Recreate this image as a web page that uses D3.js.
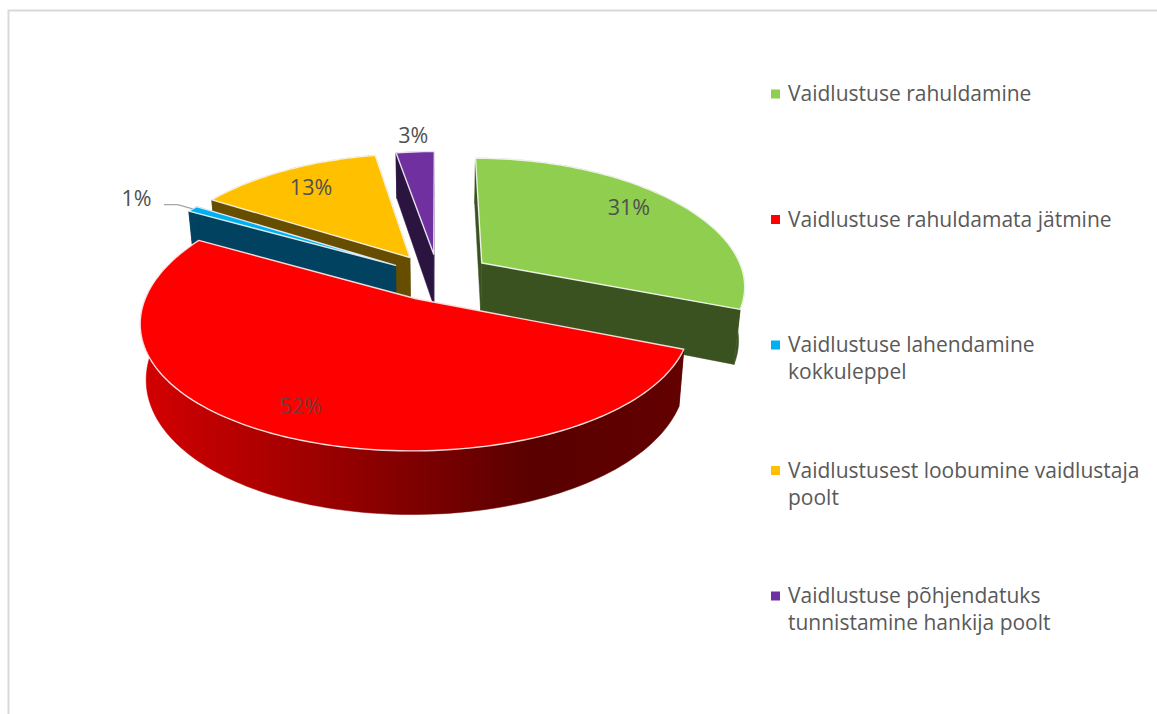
<!DOCTYPE html>
<html>
<head>
<meta charset="utf-8">
<script src="https://cdnjs.cloudflare.com/ajax/libs/d3/7.8.5/d3.min.js"></script>
<style>
    html, body { margin: 0; padding: 0; background: #fff; overflow: hidden; }
    text { font-family: "Open Sans", "Noto Sans", sans-serif; }
</style>
</head>
<body>
<svg id="chart" width="1157" height="714"></svg>
<script>
const categories = [
    ['Vaidlustuse rahuldamine'],
    ['Vaidlustuse rahuldamata jätmine'],
    ['Vaidlustuse lahendamine', 'kokkuleppel'],
    ['Vaidlustusest loobumine vaidlustaja', 'poolt'],
    ['Vaidlustuse põhjendatuks', 'tunnistamine hankija poolt']
];
const shares = [31, 52, 0.8, 13.4, 2.8];
const shareLabels = ['31%', '52%', '1%', '13%', '3%'];
const faceColors = ['#8fce4e', '#ff0000', '#00b0f0', '#ffc000', '#7030a0'];
const wallColors = ['#3a5220', '#5a0000', '#00425f', '#664d00', '#2c1440'];
const explosions = [0.205, 0.19, 0.19, 0.195, 0.19];

// radius (1 = rim) and turn in degrees from the slice middle, for the % labels
const labelRadius = [0.79, 0.83, 1.26, 0.77, 1.17];
const labelTurn = [-3, 0.5, -2.5, -0.5, 0.2];

const WIDTH = 1157;
const HEIGHT = 714;
const CENTER = { x: 438, y: 277 };
const RADIUS = 263;
const RADIUS_Y = 123.5;
const PERSPECTIVE_X = 0.17;
const PERSPECTIVE_Y = 0.143;
const THICKNESS = 53;
const LOWER_SHRINK = 0.98;

const svg = d3.select('#chart').attr('viewBox', `0 0 ${WIDTH} ${HEIGHT}`);

svg.append('rect').attr('width', WIDTH).attr('height', HEIGHT).attr('fill', '#fff');

// frame of the pasted chart: only top and left are inside the picture
svg.append('path')
    .attr('d', `M8.5 ${HEIGHT} V10.5 H${WIDTH}`)
    .attr('fill', 'none')
    .attr('stroke', '#d9d9d9')
    .attr('stroke-width', 2);

const slices = d3.pie().sort(null).startAngle(0).endAngle(2 * Math.PI)(shares);

const rad = d => d * Math.PI / 180;

// a point of the tilted disc, seen with a bit of perspective
function project(X, Z, down = 0) {
    const sx = 1 / (1 + PERSPECTIVE_X * Z);
    const sy = 1 / (1 + PERSPECTIVE_Y * Z);
    return [
        CENTER.x + RADIUS * X * sx * (down ? LOWER_SHRINK : 1),
        CENTER.y - RADIUS_Y * Z * sy + (down ? THICKNESS * sy : 0)
    ];
}

function slicePoint(slice, angle, r, down = 0) {
    const mid = (slice.startAngle + slice.endAngle) / 2;
    const X = explosions[slice.index] * Math.sin(mid) + r * Math.sin(angle);
    const Z = explosions[slice.index] * Math.cos(mid) + r * Math.cos(angle);
    return project(X, Z, down);
}

function rimAngles(slice) {
    const n = Math.max(2, Math.ceil((slice.endAngle - slice.startAngle) / rad(1.5)));
    return d3.range(n + 1).map(i => slice.startAngle + (slice.endAngle - slice.startAngle) * i / n);
}

const line = d3.line();
const closed = pts => line(pts) + 'Z';

// the big slice has the shaded rim
const defs = svg.append('defs');
const rimGradient = defs.append('linearGradient')
    .attr('id', 'red-rim')
    .attr('gradientUnits', 'userSpaceOnUse')
    .attr('x1', 141).attr('y1', 0)
    .attr('x2', 690).attr('y2', 0);
rimGradient.append('stop').attr('offset', '0%').attr('stop-color', '#d40000');
rimGradient.append('stop').attr('offset', '72%').attr('stop-color', '#590000');
rimGradient.append('stop').attr('offset', '100%').attr('stop-color', '#640000');

const pieG = svg.append('g');
const drawOrder = [4, 3, 2, 0, 1];

drawOrder.forEach(i => {
    const slice = slices[i];
    const g = pieG.append('g');
    const angles = rimAngles(slice);
    const apexTop = slicePoint(slice, 0, 0);
    const apexLow = slicePoint(slice, 0, 0, 1);

    [slice.startAngle, slice.endAngle].forEach(a => {
        g.append('path')
            .attr('d', closed([apexTop, slicePoint(slice, a, 1), slicePoint(slice, a, 1, 1), apexLow]))
            .attr('fill', wallColors[i])
            .attr('stroke', wallColors[i])
            .attr('stroke-width', 0.5);
    });

    const rimTop = angles.map(a => slicePoint(slice, a, 1));
    const rimLow = angles.map(a => slicePoint(slice, a, 1, 1));
    const rimFill = i === 1 ? 'url(#red-rim)' : wallColors[i];
    g.append('path')
        .attr('d', closed(rimTop.concat(rimLow.reverse())))
        .attr('fill', rimFill)
        .attr('stroke', rimFill)
        .attr('stroke-width', 0.5);

    g.append('path')
        .attr('d', closed([apexTop].concat(rimTop)))
        .attr('fill', faceColors[i])
        .attr('stroke', '#fff')
        .attr('stroke-opacity', 0.85)
        .attr('stroke-width', 1.4)
        .attr('stroke-linejoin', 'round');
});

// leader of the 1% label
const blue = slices[2];
const blueMid = (blue.startAngle + blue.endAngle) / 2;
svg.append('path')
    .attr('d', line([
        slicePoint(blue, blueMid, 1.0),
        slicePoint(blue, blueMid, 1.08),
        slicePoint(blue, blueMid - rad(1.5), 1.13)
    ]))
    .attr('fill', 'none')
    .attr('stroke', '#a6a6a6')
    .attr('stroke-width', 1.2);

slices.forEach((slice, i) => {
    const mid = (slice.startAngle + slice.endAngle) / 2 + rad(labelTurn[i]);
    const [x, y] = slicePoint(slice, mid, labelRadius[i]);
    svg.append('text')
        .attr('x', x)
        .attr('y', y)
        .attr('text-anchor', 'middle')
        .attr('dominant-baseline', 'middle')
        .style('fill', i === 1 ? '#7a3a3a' : '#505050')
        .style('font-size', '21.5px')
        .text(shareLabels[i]);
});

const legendY = d3.scaleLinear().domain([0, 4]).range([94, 596]);
const legend = svg.append('g');

categories.forEach((lines, i) => {
    const y = legendY(i);
    legend.append('rect')
        .attr('x', 771)
        .attr('y', y - 4.5)
        .attr('width', 9)
        .attr('height', 9)
        .attr('fill', faceColors[i]);
    lines.forEach((txt, j) => {
        legend.append('text')
            .attr('x', 788)
            .attr('y', y + 1.5 + j * 27)
            .attr('dominant-baseline', 'middle')
            .style('fill', '#595959')
            .style('font-size', '21px')
            .text(txt);
    });
});
</script>
</body>
</html>
